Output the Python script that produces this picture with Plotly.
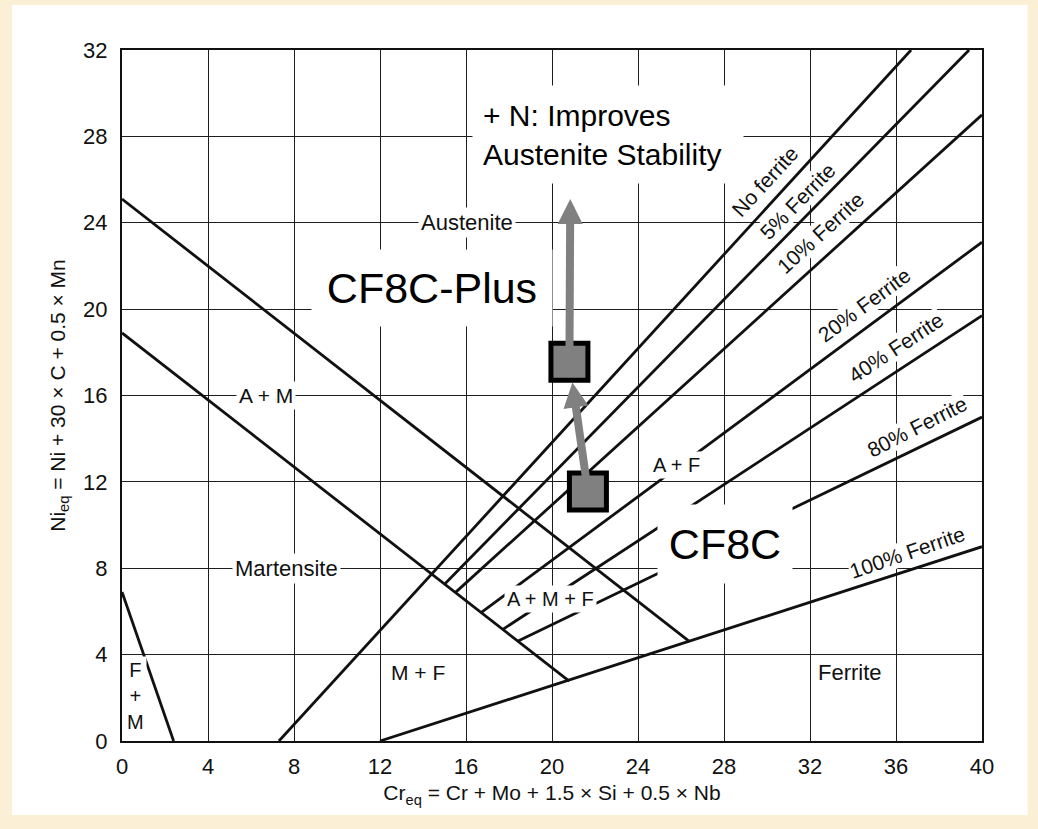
import math
import plotly.graph_objects as go

FONT = "Liberation Sans, Arial, Helvetica, sans-serif"

# Axis ticks
cr_ticks = [0, 4, 8, 12, 16, 20, 24, 28, 32, 36, 40]
ni_ticks = [0, 4, 8, 12, 16, 20, 24, 28, 32]

# Phase boundaries (Cr_eq, Ni_eq end points)
fm_boundary_x = [0.0, 2.4]
fm_boundary_y = [6.9, 0.0]
austenite_boundary_x = [0.0, 26.4]
austenite_boundary_y = [25.1, 4.6]
martensite_boundary_x = [0.0, 20.8]
martensite_boundary_y = [18.9, 2.77]

# Iso-ferrite lines
ferrite_names = ["No ferrite", "5% Ferrite", "10% Ferrite", "20% Ferrite",
                 "40% Ferrite", "80% Ferrite", "100% Ferrite"]
ferrite_x0 = [7.3, 15.0, 15.5, 16.7, 17.7, 18.4, 12.0]
ferrite_y0 = [0.0, 7.26, 6.87, 5.94, 5.16, 4.62, 0.0]
ferrite_x1 = [36.7, 39.4, 40.0, 40.0, 40.0, 40.0, 40.0]
ferrite_y1 = [32.0, 32.0, 29.0, 23.1, 19.7, 15.0, 9.0]
ferrite_label_x = [29.9, 31.4, 32.5, 34.55, 36.0, 37.0, 36.5]
ferrite_label_y = [25.9, 25.0, 23.55, 20.2, 18.2, 14.55, 8.75]
ferrite_label_angle = [-47.5, -45.5, -42.5, -36.5, -33.5, -27, -19]

# Phase field names
region_names = ["Austenite", "A + M", "Martensite", "M + F", "F<br>+<br>M",
                "Ferrite", "A + F", "A + M + F"]
region_x = [16.05, 6.7, 7.63, 13.77, 0.65, 33.86, 25.8, 19.95]
region_y = [24.0, 16.0, 8.0, 3.15, 2.1, 3.15, 12.8, 6.57]
region_size = [22, 21, 22, 21, 20, 22, 20, 20]

# Alloy compositions
alloy_names = ["CF8C", "CF8C-Plus"]
alloy_cr = [21.67, 20.81]
alloy_ni = [11.56, 17.56]
alloy_label_x = [28.05, 14.42]
alloy_label_y = [9.12, 20.97]

# Nitrogen effect
nitrogen_tip_cr = 20.85
nitrogen_tip_ni = 25.1
nitrogen_note = "+ N: Improves<br>Austenite Stability"
nitrogen_note_x = 22.6
nitrogen_note_y = 28.08

BLACK = "#111111"
GREY = "#808080"

# plot area: 860 px over 40 units, 691 px over 32 units
PX_X = 860 / 40
PX_Y = 691 / 32


def arrow_shapes(x0, y0, x1, y1, standoff=0.0, head_len=25.0, head_w=25.0,
                 width=8):
    """Grey block arrow from (x0, y0) to (x1, y1) built as layout shapes."""
    dx = (x1 - x0) * PX_X
    dy = (y1 - y0) * PX_Y
    length = math.hypot(dx, dy)
    ux, uy = dx / length, dy / length
    tip = (x1 - ux * standoff / PX_X, y1 - uy * standoff / PX_Y)
    base = (tip[0] - ux * head_len / PX_X, tip[1] - uy * head_len / PX_Y)
    px_, py_ = -uy, ux
    left = (base[0] + px_ * head_w / 2 / PX_X, base[1] + py_ * head_w / 2 / PX_Y)
    right = (base[0] - px_ * head_w / 2 / PX_X, base[1] - py_ * head_w / 2 / PX_Y)
    shaft_end = (base[0] + ux * 2 / PX_X, base[1] + uy * 2 / PX_Y)
    return [
        dict(type="line", xref="x", yref="y", x0=x0, y0=y0,
             x1=shaft_end[0], y1=shaft_end[1],
             line=dict(color=GREY, width=width), layer="above"),
        dict(type="path", xref="x", yref="y",
             path=(f"M{tip[0]},{tip[1]} L{left[0]},{left[1]} "
                   f"L{right[0]},{right[1]} Z"),
             fillcolor=GREY, line=dict(width=0), layer="above"),
    ]


fig = go.Figure()

line_style = dict(color=BLACK, width=2.8)
for xs, ys in [(fm_boundary_x, fm_boundary_y),
               (austenite_boundary_x, austenite_boundary_y),
               (martensite_boundary_x, martensite_boundary_y)]:
    fig.add_trace(go.Scatter(x=xs, y=ys, mode="lines", line=line_style,
                             hoverinfo="skip"))

for name, x0, y0, x1, y1 in zip(ferrite_names, ferrite_x0, ferrite_y0,
                                ferrite_x1, ferrite_y1):
    fig.add_trace(go.Scatter(x=[x0, x1], y=[y0, y1], mode="lines",
                             line=line_style, name=name, hoverinfo="skip"))

fig.add_trace(go.Scatter(
    x=alloy_cr, y=alloy_ni, mode="markers", text=alloy_names,
    marker=dict(symbol="square", size=37, color=GREY,
                line=dict(color="black", width=5)),
    hoverinfo="text"))

annotations = []

for name, x, y, a in zip(ferrite_names, ferrite_label_x, ferrite_label_y,
                         ferrite_label_angle):
    annotations.append(dict(x=x, y=y, xref="x", yref="y", text=name,
                            showarrow=False, textangle=a, bgcolor="white",
                            borderpad=0,
                            font=dict(family=FONT, size=21, color=BLACK)))

for name, x, y, s in zip(region_names, region_x, region_y, region_size):
    annotations.append(dict(x=x, y=y, xref="x", yref="y", text=name,
                            showarrow=False, bgcolor="white", borderpad=2,
                            font=dict(family=FONT, size=s, color=BLACK)))

# Alloy labels on white boxes
box_size = [(134, 78), (240, 76)]
for name, x, y, (w, h) in zip(alloy_names, alloy_label_x, alloy_label_y,
                              box_size):
    annotations.append(dict(x=x, y=y, xref="x", yref="y", text=name,
                            showarrow=False, bgcolor="white", borderpad=0,
                            width=w, height=h,
                            font=dict(family=FONT, size=43, color="black")))

annotations.append(dict(x=nitrogen_note_x, y=nitrogen_note_y, xref="x",
                        yref="y", text=nitrogen_note, showarrow=False,
                        bgcolor="white", borderpad=10, width=250, height=77,
                        align="left",
                        font=dict(family=FONT, size=30, color="black")))

shapes = [dict(type="rect", xref="paper", yref="paper", x0=-0.128,
               x1=1.053, y0=-0.107, y1=1.065, fillcolor="white",
               line=dict(width=0), layer="below")]
# CF8C -> CF8C-Plus, then the nitrogen addition
shapes += arrow_shapes(alloy_cr[0], alloy_ni[0], alloy_cr[1], alloy_ni[1],
                       standoff=21)
shapes += arrow_shapes(alloy_cr[1], alloy_ni[1], nitrogen_tip_cr,
                       nitrogen_tip_ni)

axis_common = dict(showgrid=True, gridcolor="#1e1e1e", gridwidth=1.4,
                   zeroline=False, showline=True, mirror=True,
                   linecolor=BLACK, linewidth=2.2, ticks="",
                   tickfont=dict(family=FONT, size=22, color=BLACK))

fig.update_layout(
    width=1038, height=829,
    margin=dict(l=122, r=56, t=50, b=88),
    paper_bgcolor="#FBF0D5",
    plot_bgcolor="white",
    showlegend=False,
    annotations=annotations,
    shapes=shapes,
    xaxis=dict(range=[0, 40], tickvals=cr_ticks, ticklabelstandoff=4,
               title=dict(text="Cr<sub>eq</sub> = Cr + Mo + 1.5 × Si + 0.5 × Nb",
                          font=dict(family=FONT, size=21, color=BLACK),
                          standoff=8),
               **axis_common),
    yaxis=dict(range=[0, 32], tickvals=ni_ticks, ticklabelstandoff=8,
               title=dict(text="Ni<sub>eq</sub> = Ni + 30 × C + 0.5 × Mn",
                          font=dict(family=FONT, size=21, color=BLACK),
                          standoff=12),
               **axis_common),
)

fig.write_html("out.html")
